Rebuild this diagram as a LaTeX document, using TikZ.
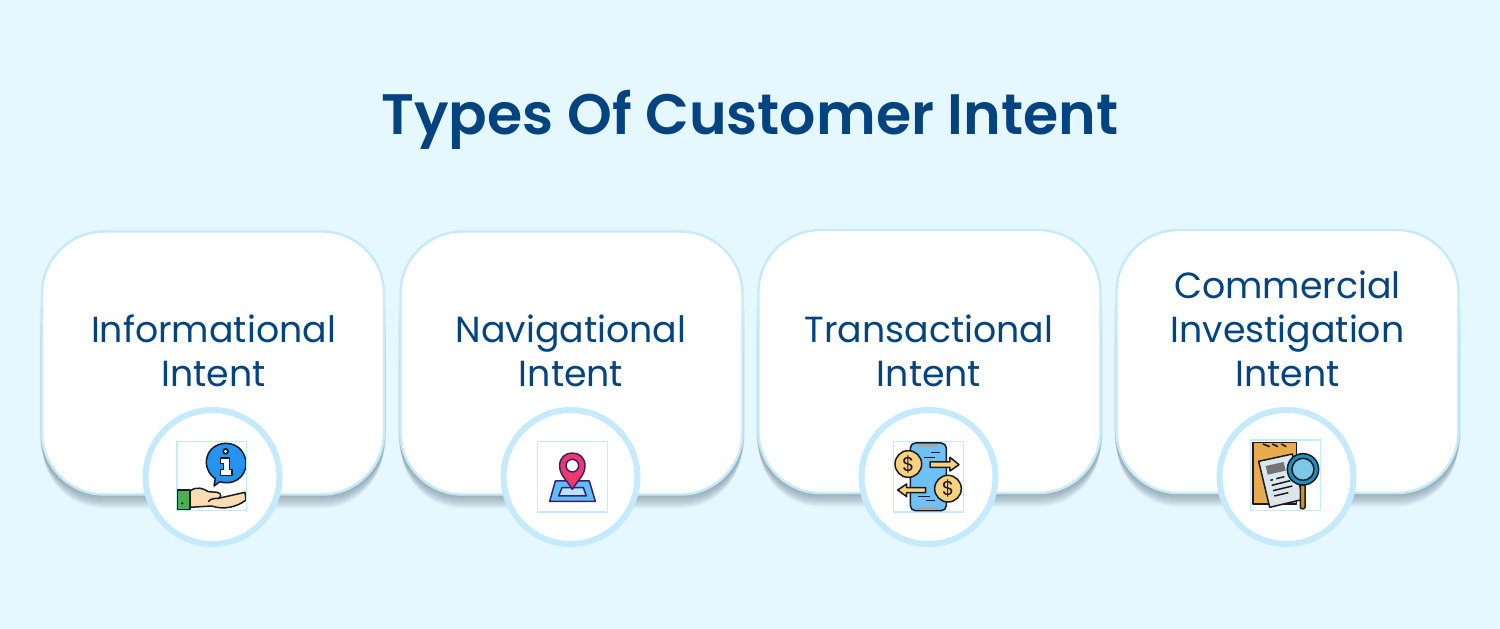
\documentclass[tikz,border=0pt]{standalone}
\usepackage{fontspec}
\setmainfont{Poppins}
\newfontfamily\titlefont{Poppins SemiBold}
\definecolor{bgc}{HTML}{E5F7FF}
\definecolor{ringc}{HTML}{C5EAFC}
\definecolor{navy}{HTML}{034480}
\definecolor{shadowc}{HTML}{5F7480}
\definecolor{ink}{HTML}{1A1A22}
\definecolor{bluei}{HTML}{2493F2}
\definecolor{skin}{HTML}{FBDDB4}
\definecolor{cuff}{HTML}{4CAF50}
\definecolor{pinc}{HTML}{F0386B}
\definecolor{pinl}{HTML}{3F1D6E}
\definecolor{mapa}{HTML}{5CBEF4}
\definecolor{mapb}{HTML}{B8E4FB}
\definecolor{phone}{HTML}{6DC1F6}
\definecolor{coin}{HTML}{FAD27F}
\definecolor{folder}{HTML}{E9AC4C}
\definecolor{paper}{HTML}{DCE7ED}
\definecolor{lens}{HTML}{7CC8E6}
\definecolor{lensr}{HTML}{1E8FB8}
\definecolor{handle}{HTML}{DB8E26}
\tikzset{
  cardbox/.style={draw=ringc,line width=2.4pt,fill=white,rounded corners=62pt,minimum width=342pt,minimum height=263pt,inner sep=0pt},
  cardlabel/.style={text=navy,font=\fontsize{36.3}{44}\selectfont,align=center,inner sep=0pt},
  ringbox/.style={circle,draw=ringc,line width=6pt,fill=white,minimum size=134pt,inner sep=0pt},
  iconbox/.style={draw=ringc,line width=1.3pt,fill=white},
  ik/.style={draw=ink,line width=1.5pt,line join=round},
  pk/.style={draw=pinl,line width=1.5pt,line join=round},
  icon/.style={shift={#1},x=0.3333pt,y=-0.3333pt},
}
\newcommand{\cardshadow}[2]{%
  \foreach \d in {1,...,8}{
    \fill[shadowc,opacity=0.085,rounded corners=62pt]
      (#1-171-2.6+\d*0.4,#2-120+\d*12) rectangle (#1+171+2.6-\d*0.4,#2+131.5+\d*1.7);
  }}
\begin{document}
\begin{tikzpicture}[x=1pt,y=-1pt]
\useasboundingbox[fill=bgc] (0,0) rectangle (1500,629);
\node[text=navy,font=\titlefont\fontsize{57}{60}\selectfont,inner sep=0pt] (title) at (750,120) {Types Of Customer Intent};

\cardshadow{213}{363}
\cardshadow{571.5}{363}
\cardshadow{929.5}{361.5}
\cardshadow{1287.5}{361.5}
\node[cardbox] (card1) at (213,363) {};
\node[cardbox] (card2) at (571.5,363) {};
\node[cardbox] (card3) at (929.5,361.5) {};
\node[cardbox] (card4) at (1287.5,361.5) {};
\node[cardlabel] (label1) at (213.5,351) {Informational\\Intent};
\node[cardlabel] (label2) at (571,351) {Navigational\\Intent};
\node[cardlabel] (label3) at (929,351) {Transactional\\Intent};
\node[cardlabel] (label4) at (1287.5,328.5) {Commercial\\Investigation\\Intent};
\node[ringbox] (ring1) at (212.5,477) {};
\node[ringbox] (ring2) at (570.5,477) {};
\node[ringbox] (ring3) at (928.5,477) {};
\node[ringbox] (ring4) at (1286.5,477) {};

% icon 1
\begin{scope}[icon={(140,400)}]
\draw[iconbox] (111,125) rectangle (319,332);
\clip (111,125) rectangle (318,331);
\draw[ik,fill=bluei] (222,258) -- (226,236) .. controls (180,205) and (195,132) .. (257,130) .. controls (300,130) and (318,165) .. (318,190) .. controls (318,235) and (275,258) .. (240,245) -- cycle;
\fill[ink] (257,154) circle (10);
\fill[white] (257,154) circle (5);
\draw[ik,fill=white] (241,174) -- (268,174) -- (268,208) -- (276,208) -- (276,226) -- (241,226) -- (241,208) -- (250,208) -- (250,190) -- (241,190) -- cycle;
\draw[ik,fill=skin] (150,273) .. controls (170,258) and (190,265) .. (205,275) -- (232,277) .. controls (245,280) and (245,292) .. (235,295) -- (315,277) -- (318,300) .. controls (290,322) and (250,330) .. (215,318) -- (150,322) -- cycle;
\draw[ik] (205,305) .. controls (212,295) and (225,295) .. (238,295);
\draw[ik,fill=cuff] (113,270) -- (150,270) -- (150,328) -- (113,328) -- cycle;
\fill[ink] (127,310) circle (3.5);
\end{scope}

% icon 2
\begin{scope}[icon={(498,400)}]
\draw[iconbox] (118,125) rectangle (328,336);
\draw[pk,fill=mapa] (172,243) -- (274,243) -- (292,304) -- (155,304) -- cycle;
\draw[pk,fill=mapb] (192,263) -- (256,263) -- (265,288) -- (182,288) -- cycle;
\draw[pk,fill=pinc] (223,268) .. controls (205,238) and (185,225) .. (185,197) .. controls (185,172) and (203,159) .. (223,159) .. controls (243,159) and (261,172) .. (261,197) .. controls (261,225) and (241,238) .. (223,268) -- cycle;
\draw[pk,fill=white] (223,197) circle (19);
\end{scope}

% icon 3
\begin{scope}[icon={(855,400)}]
\draw[iconbox] (115,125) rectangle (325,336);
\draw[ik,fill=phone,rounded corners=5pt] (166,129) rectangle (274,332);
\fill[gray!70] (190,132) rectangle (248,141);
\fill[gray!70] (190,321) rectangle (248,329);
\draw[ink,line width=1pt] (208,172) -- (240,172) (228,158) -- (254,158) (190,290) -- (224,290) (212,303) -- (240,303);
\draw[ik,fill=coin] (225,186) -- (285,186) -- (285,172) -- (312,194) -- (285,213) -- (285,202) -- (225,202) -- cycle;
\draw[ik,fill=coin] (212,263) -- (155,263) -- (155,252) -- (128,270) -- (155,290) -- (155,278) -- (212,278) -- cycle;
\draw[ik,fill=coin] (160,192) circle (40);
\draw[ik,fill=coin] (279,266) circle (40);
\node[text=ink,font=\fontsize{20}{20}\selectfont,inner sep=0pt] (dollar1) at (160,192) {\$};
\node[text=ink,font=\fontsize{20}{20}\selectfont,inner sep=0pt] (dollar2) at (279,266) {\$};
\end{scope}

% icon 4
\begin{scope}[icon={(1213,400)}]
\draw[iconbox] (113,120) rectangle (323,332);
\draw[ik,fill=folder] (120,128) -- (250,128) -- (250,312) -- (120,312) -- cycle;
\draw[ink,line width=1.6pt] (150,132) -- (170,140) (178,132) -- (195,140) (205,132) -- (220,140);
\draw[ik,fill=paper] (137,184) -- (238,162) -- (270,298) -- (170,322) -- cycle;
\fill[gray!65!black!80] (158,198) -- (212,186) -- (218,212) -- (164,224) -- cycle;
\draw[ink,line width=1.5pt] (172,241) -- (180,239) (190,236) -- (214,230) (176,256) -- (232,242) (180,272) -- (238,258) (184,288) -- (226,278);
\draw[ik,fill=handle] (262,255) -- (276,255) -- (276,322) .. controls (276,328) and (262,328) .. (262,322) -- cycle;
\draw[ik,fill=lensr] (270,208) circle (47);
\draw[ik,fill=lens] (270,208) circle (33);
\end{scope}
\end{tikzpicture}
\end{document}
